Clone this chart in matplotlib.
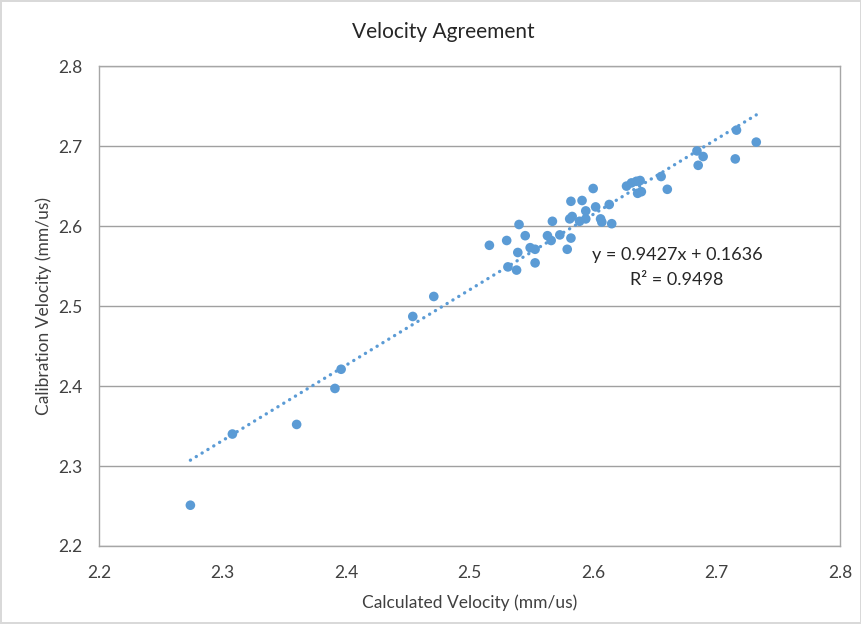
import matplotlib
matplotlib.use("Agg")
import matplotlib.pyplot as plt
import numpy as np

plt.rcParams['font.family'] = ['Lato', 'DejaVu Sans']

calc_vel = [2.274, 2.308, 2.360, 2.391, 2.396, 2.454, 2.471, 2.516, 2.530, 2.531,
            2.540, 2.539, 2.538, 2.545, 2.549, 2.553, 2.553, 2.567, 2.563, 2.566,
            2.573, 2.579, 2.582, 2.581, 2.583, 2.582, 2.589, 2.591, 2.594, 2.594,
            2.600, 2.602, 2.606, 2.607, 2.613, 2.615, 2.627, 2.631, 2.635, 2.638,
            2.636, 2.639, 2.655, 2.660, 2.684, 2.685, 2.689, 2.715, 2.716, 2.732]
calib_vel = [2.251, 2.340, 2.352, 2.397, 2.421, 2.487, 2.512, 2.576, 2.582, 2.549,
             2.602, 2.567, 2.545, 2.588, 2.573, 2.571, 2.554, 2.606, 2.588, 2.582,
             2.589, 2.571, 2.631, 2.609, 2.612, 2.585, 2.606, 2.632, 2.619, 2.609,
             2.647, 2.624, 2.609, 2.605, 2.627, 2.603, 2.650, 2.654, 2.656, 2.657,
             2.641, 2.643, 2.662, 2.646, 2.694, 2.676, 2.687, 2.684, 2.720, 2.705]

slope = 0.9427
intercept = 0.1636
r2 = 0.9498

x_ticks = [2.2, 2.3, 2.4, 2.5, 2.6, 2.7, 2.8]
y_ticks = [2.2, 2.3, 2.4, 2.5, 2.6, 2.7, 2.8]

fig = plt.figure(figsize=(8.62, 6.24), dpi=100)
fig.patch.set_edgecolor('#d9d9d9')
fig.patch.set_linewidth(1.5)
ax = fig.add_axes([0.1148, 0.125, 0.86, 0.769])

ax.set_xlim(2.2, 2.8)
ax.set_ylim(2.2, 2.8)
ax.set_xticks(x_ticks)
ax.set_yticks(y_ticks)
ax.set_xticklabels([f"{v:.1f}" for v in x_ticks])
ax.set_yticklabels([f"{v:.1f}" for v in y_ticks])
ax.tick_params(length=0, labelsize=12.5, colors='#404040')
ax.tick_params(axis='x', pad=14)
ax.tick_params(axis='y', pad=12)
for s in ax.spines.values():
    s.set_color('#a6a6a6')
    s.set_linewidth(1.0)
ax.yaxis.grid(True, color='#a0a0a0', linewidth=1.0)
ax.set_axisbelow(True)

x_arr = np.array(calc_vel)
xl = np.array([x_arr.min(), x_arr.max()])
ax.plot(xl, slope * xl + intercept, linestyle=(0, (0.05, 2.0)), color='#5B9BD5',
        linewidth=2.4, dash_capstyle='round', zorder=2)
ax.scatter(calc_vel, calib_vel, s=48, color='#5B9BD5', zorder=3, edgecolors='none')

ax.text(2.668, 2.564, f"y = {slope}x + {intercept}", ha='center', va='center',
        fontsize=13, color='#262626')
ax.text(2.668, 2.532, f"R² = {r2}", ha='center', va='center',
        fontsize=13, color='#262626')

ax.set_xlabel("Calculated Velocity (mm/us)", fontsize=12.5, color='#404040', labelpad=9)
ax.set_ylabel("Calibration Velocity (mm/us)", fontsize=12.5, color='#404040', labelpad=4)
fig.text(0.5148, 0.949, "Velocity Agreement", ha='center', va='center',
         fontsize=15, color='#262626')

fig.savefig("out.png", dpi=100)
